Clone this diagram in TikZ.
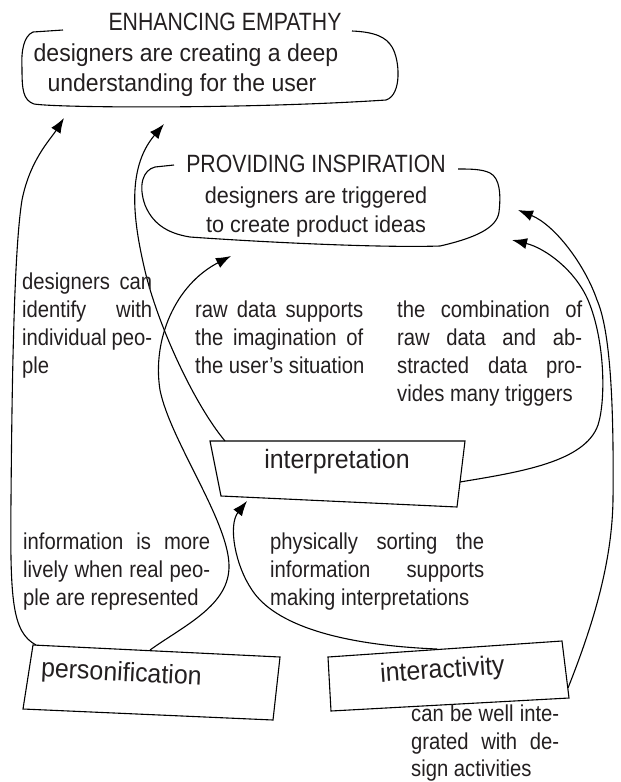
\documentclass[tikz,border=0pt]{standalone}
\usepackage{fontspec}
\setmainfont{Liberation Sans}
\newfontfamily\labfont{Liberation Sans}[FakeStretch=0.88]
\newfontfamily\boxfont{Liberation Sans}[FakeStretch=0.94]
\newfontfamily\titfont{Liberation Sans}[FakeStretch=0.85]
\usetikzlibrary{arrows.meta}
\definecolor{ink}{RGB}{35,31,32}
\begin{document}
\begin{tikzpicture}[x=1pt,y=-1pt,
  conn/.style={draw=black, line width=1.1pt, -{Latex[length=15pt,width=11pt]}},
  outline/.style={draw=black, line width=1.1pt},
  lab/.style={inner sep=0pt, anchor=base west, text=ink, font=\labfont\fontsize{23}{28}\selectfont},
  boxtxt/.style={inner sep=0pt, anchor=base, text=ink, font=\boxfont\fontsize{24.5}{28}\selectfont},
  boxtxtb/.style={boxtxt, font=\boxfont\fontsize{23}{28}\selectfont},
  title/.style={inner sep=0pt, anchor=base, text=ink, font=\titfont\fontsize{25}{28}\selectfont},
  elem/.style={inner sep=0pt, anchor=base, text=ink, font=\boxfont\fontsize{26.5}{30}\selectfont},
]
\useasboundingbox (0,0) rectangle (621,782);

% ENHANCING EMPATHY
\node[title] (empT) at (225,30) {ENHANCING EMPATHY};
\node[boxtxt] (empL1) at (186,61) {designers are creating a deep};
\node[boxtxt] (empL2) at (182,91) {understanding for the user};
\draw[outline] (63,30) -- (33,32) .. controls (24,36) and (21,50) .. (22,68)
  .. controls (22,90) and (23,100) .. (34,104)
  .. controls (60,108) and (250,109) .. (386,100)
  .. controls (402,95) and (400,60) .. (392,47)
  .. controls (386,37) and (375,32) .. (352,31);
\coordinate (empA1) at (64,118);
\coordinate (empA2) at (164,124);

% PROVIDING INSPIRATION
\node[title] (insT) at (316,172) {PROVIDING INSPIRATION};
\node[boxtxtb] (insL1) at (316,203) {designers are triggered};
\node[boxtxtb] (insL2) at (316,232) {to create product ideas};
\draw[outline] (174,165) -- (155,167) .. controls (143,170) and (138,185) .. (145,205)
  .. controls (152,222) and (165,233) .. (190,237)
  .. controls (260,242) and (380,248) .. (440,246)
  .. controls (475,238) and (497,228) .. (499,212)
  .. controls (501,195) and (500,178) .. (490,173)
  .. controls (482,169) and (470,169) .. (458,169);
\coordinate (insA1) at (231,256);
\coordinate (insA2) at (518,210);
\coordinate (insA3) at (512,240);

% interpretation
\coordinate (ipTL) at (210,441);
\coordinate (ipTR) at (465,441);
\coordinate (ipBR) at (457,507);
\coordinate (ipBL) at (221,496);
\draw[outline] (ipTL) -- (ipTR) -- (ipBR) -- (ipBL) -- cycle;
\node[elem] (interp) at (337,468) {interpretation};
\coordinate (ipC) at (225,441);
\coordinate (ipG) at (460,482);
\coordinate (ipA) at (247,501);

% personification
\coordinate (peTL) at (33,645);
\coordinate (peTR) at (280,657);
\coordinate (peBR) at (273,720);
\coordinate (peBL) at (23,709);
\draw[outline] (peTL) -- (peTR) -- (peBR) -- (peBL) -- cycle;
\node[elem, rotate=-3] (pers) at (121,681) {personification};
\coordinate (peD) at (36,645);
\coordinate (peB) at (150,650);

% interactivity
\coordinate (iaTL) at (328,657);
\coordinate (iaTR) at (562,641);
\coordinate (iaBR) at (569,698);
\coordinate (iaBL) at (331,711);
\draw[outline] (iaTL) -- (iaTR) -- (iaBR) -- (iaBL) -- cycle;
\node[elem, rotate=4] (inter) at (443,678) {interactivity};
\coordinate (iaE) at (437,649);
\coordinate (iaF) at (568,688);

% connectors
\draw[conn] (peD) .. controls (12,632) and (10,600) .. (11,500)
  .. controls (12,380) and (14,250) .. (22,200)
  .. controls (30,160) and (50,140) .. (empA1);
\draw[conn] (peB) .. controls (185,625) and (230,605) .. (229,565)
  .. controls (228,520) and (170,440) .. (160,390)
  .. controls (152,340) and (175,285) .. (insA1);
\draw[conn] (ipC) .. controls (195,405) and (160,330) .. (146,275)
  .. controls (134,225) and (125,170) .. (empA2);
\draw[conn] (iaE) .. controls (340,645) and (275,625) .. (252,590)
  .. controls (235,565) and (228,525) .. (ipA);
\draw[conn] (iaF) .. controls (595,620) and (612,560) .. (613,500)
  .. controls (614,400) and (610,330) .. (597,300)
  .. controls (585,265) and (555,225) .. (insA2);
\draw[conn] (ipG) .. controls (520,472) and (585,462) .. (598,425)
  .. controls (606,400) and (605,340) .. (588,300)
  .. controls (575,270) and (545,248) .. (insA3);

% labels
\node[lab] (a1) at (22,289) {\makebox[130pt][s]{designers can}};
\node[lab] (a2) at (22,317) {\makebox[130pt][s]{identify with}};
\node[lab] (a3) at (22,345) {\makebox[130pt][s]{individual peo-}};
\node[lab] (a4) at (22,373) {ple};

\node[lab] (b1) at (195,317) {\makebox[168pt][s]{raw data supports}};
\node[lab] (b2) at (195,345) {\makebox[168pt][s]{the imagination of}};
\node[lab] (b3) at (195,373) {the user’s situation};

\node[lab] (c1) at (397,317) {\makebox[185pt][s]{the combination of}};
\node[lab] (c2) at (397,345) {\makebox[185pt][s]{raw data and ab-}};
\node[lab] (c3) at (397,373) {\makebox[185pt][s]{stracted data pro-}};
\node[lab] (c4) at (397,401) {vides many triggers};

\node[lab] (d1) at (23,549) {\makebox[187pt][s]{information is more}};
\node[lab] (d2) at (23,577) {\makebox[187pt][s]{lively when real peo-}};
\node[lab] (d3) at (23,605) {ple are represented};

\node[lab] (e1) at (270,549) {\makebox[214pt][s]{physically sorting the}};
\node[lab] (e2) at (270,577) {\makebox[214pt][s]{information supports}};
\node[lab] (e3) at (270,605) {making interpretations};

\node[lab] (f1) at (411,721) {\makebox[148pt][s]{can be well inte-}};
\node[lab] (f2) at (411,749) {\makebox[148pt][s]{grated with de-}};
\node[lab] (f3) at (411,776) {sign activities};
\end{tikzpicture}
\end{document}
